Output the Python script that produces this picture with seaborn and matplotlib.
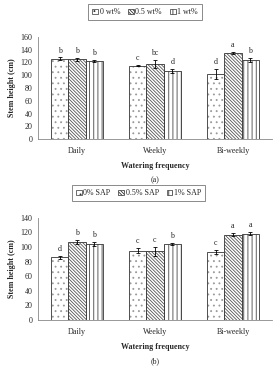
import matplotlib
matplotlib.use("Agg")
import matplotlib.pyplot as plt
import numpy as np
import pandas as pd
import seaborn as sns

# Stem height data
freq = ["Daily", "Weekly", "Bi-weekly"]

# panel (a) - wt%
groups_a = ["0 wt%", "0.5 wt%", "1 wt%"]
mean_a = [[126, 115, 102],
          [125, 118, 135],
          [122, 107, 124]]
err_a = [[2, 1, 8],
         [2, 6, 1.5],
         [2, 3, 3]]
letters_a = [["b", "c", "d"],
             ["b", "bc", "a"],
             ["b", "d", "b"]]

# panel (b) - SAP
groups_b = ["0% SAP", "0.5% SAP", "1% SAP"]
mean_b = [[86, 95, 93],
          [107, 94, 117],
          [104, 104, 118]]
err_b = [[2, 3, 3],
         [3, 6, 2],
         [3, 2, 2]]
letters_b = [["d", "c", "c"],
             ["b", "c", "a"],
             ["b", "b", "a"]]

hatches = ["...", "\\" * 10, "||||"]
hatch_cols = ["#999999", "#555555", "#444444"]

sns.set_theme(style="white")
plt.rcParams["font.family"] = ["Liberation Serif", "DejaVu Serif"]
plt.rcParams["hatch.linewidth"] = 0.6

fig = plt.figure(figsize=(2.77, 3.66), dpi=100)


def panel(ax, groups, means, errs, letters, ymax, label, leg_x):
    rows = []
    for g, vals in zip(groups, means):
        for f, v in zip(freq, vals):
            rows.append({"freq": f, "group": g, "height": v})
    df = pd.DataFrame(rows)
    sns.barplot(data=df, x="freq", y="height", hue="group", order=freq,
                hue_order=groups, errorbar=None, width=0.67,
                palette=["white"] * 3, edgecolor="#333333", linewidth=0.6,
                ax=ax, legend=True)
    bar_sets = list(ax.containers)
    for i, cont in enumerate(bar_sets):
        for j, bar in enumerate(cont):
            bar.set_hatch(hatches[i])
            bar._hatch_color = matplotlib.colors.to_rgba(hatch_cols[i])
            x = bar.get_x() + bar.get_width() / 2
            v = means[i][j]
            e = errs[i][j]
            ax.errorbar(x, v, yerr=e, color="black", lw=0.6, capsize=1.5,
                        capthick=0.6)
            ax.text(x, v + e + 4, letters[i][j], ha="center", va="bottom",
                    fontsize=5.8)
    ax.set_ylim(0, ymax)
    ax.set_yticks(np.arange(0, ymax + 1, 20))
    ax.set_xlim(-0.5, 2.5)
    ax.set_xticks([0, 1, 2])
    ax.set_xticks([-0.5, 0.5, 1.5, 2.5], minor=True)
    ax.tick_params(axis="x", which="major", length=0, labelsize=5.8, pad=6)
    ax.tick_params(axis="x", which="minor", length=2, width=0.5, color="#888888")
    ax.tick_params(axis="y", length=2, width=0.5, color="#888888", labelsize=5.8, pad=2)
    for s in ["top", "right"]:
        ax.spines[s].set_visible(False)
    for s in ["left", "bottom"]:
        ax.spines[s].set_color("#888888")
        ax.spines[s].set_linewidth(0.6)
    ax.set_xlabel("Watering frequency", fontsize=5.8, fontweight="bold", labelpad=5)
    ax.set_ylabel("Stem height (cm)", fontsize=5.8, fontweight="bold", labelpad=3)
    if ax.legend_ is not None:
        ax.legend_.remove()
    handles = [plt.Rectangle((0, 0), 1, 1, facecolor="white", edgecolor="#333333",
                             lw=0.5, hatch=h) for h in hatches]
    leg = ax.legend(handles, groups, ncol=3, loc="center",
                    bbox_to_anchor=(leg_x, 1.24), fontsize=5.8, frameon=True,
                    fancybox=False, edgecolor="#555555", handlelength=0.7,
                    handleheight=0.7, handletextpad=0.2, columnspacing=1.0,
                    borderpad=0.5)
    leg.get_frame().set_linewidth(0.6)
    ax.text(0.5, -0.40, label, transform=ax.transAxes, ha="center",
            va="center", fontsize=5.8)


ax1 = fig.add_axes([0.137, 0.620, 0.845, 0.279])
panel(ax1, groups_a, mean_a, err_a, letters_a, 160, "(a)", 0.458)
ax2 = fig.add_axes([0.137, 0.126, 0.845, 0.279])
panel(ax2, groups_b, mean_b, err_b, letters_b, 140, "(b)", 0.43)

fig.savefig("out.png", dpi=100)
